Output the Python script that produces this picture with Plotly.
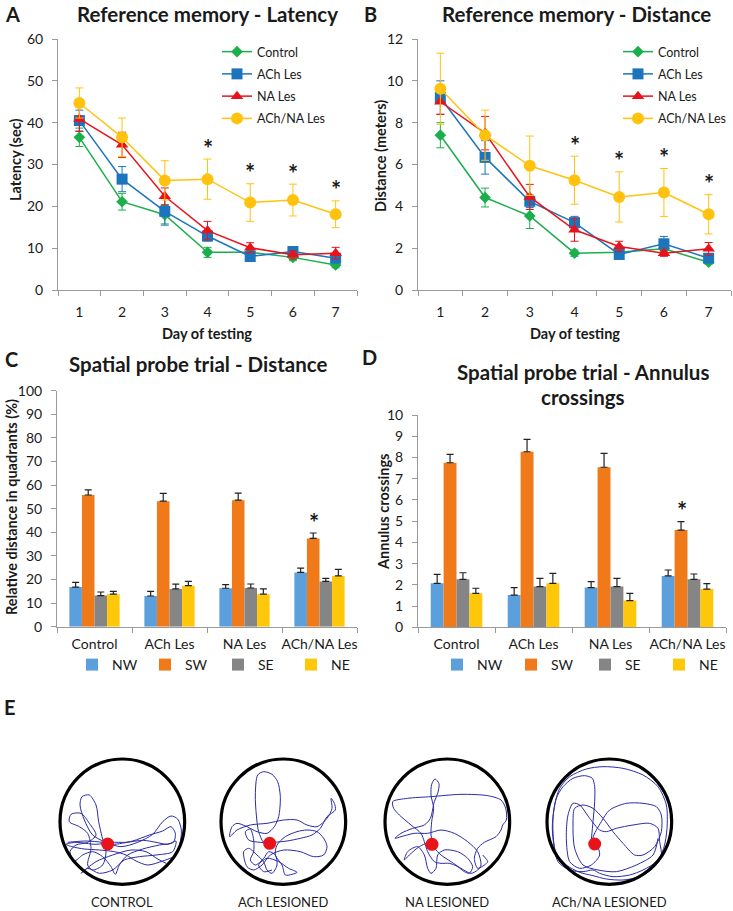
import plotly.graph_objects as go

W, H = 733, 911
FONT = "Lato"

# ---------------- data ----------------
days = ["1", "2", "3", "4", "5", "6", "7"]
groups = ["Control", "ACh Les", "NA Les", "ACh/NA Les"]
quadrants = ["NW", "SW", "SE", "NE"]

# Panel A: latency (sec)
lat_control = [36.5, 21.1, 18.0, 9.0, 9.0, 7.8, 6.0]
lat_control_err = [2.2, 2.0, 2.2, 1.2, 0.8, 0.8, 0.7]
lat_ach = [40.5, 26.5, 18.8, 12.9, 8.0, 9.2, 7.6]
lat_ach_err = [2.5, 3.0, 3.3, 1.2, 1.0, 1.0, 1.0]
lat_na = [40.9, 34.7, 22.4, 14.2, 10.1, 8.4, 8.8]
lat_na_err = [3.0, 3.0, 2.0, 2.2, 1.2, 1.0, 1.4]
lat_achna = [44.7, 36.5, 26.2, 26.5, 20.9, 21.5, 18.1]
lat_achna_err = [3.6, 4.6, 4.7, 4.8, 4.5, 3.8, 3.2]

# Panel B: distance (meters)
dist_control = [7.4, 4.42, 3.54, 1.76, 1.81, 1.97, 1.33]
dist_control_err = [0.6, 0.45, 0.6, 0.15, 0.1, 0.15, 0.1]
dist_ach = [9.2, 6.34, 4.24, 3.22, 1.70, 2.21, 1.52]
dist_ach_err = [0.8, 0.8, 0.3, 0.3, 0.2, 0.35, 0.2]
dist_na = [9.0, 7.5, 4.45, 2.88, 2.08, 1.76, 1.97]
dist_na_err = [0.6, 0.8, 0.6, 0.55, 0.25, 0.15, 0.3]
dist_achna = [9.62, 7.4, 5.94, 5.25, 4.45, 4.66, 3.62]
dist_achna_err = [1.7, 1.2, 1.42, 1.15, 1.2, 1.15, 0.94]

sig_days = ["4", "5", "6", "7"]

# Panel C: relative distance in quadrants (%), per group
probe_nw = [16.8, 13.0, 16.3, 23.0]
probe_nw_err = [2.0, 2.0, 1.5, 1.8]
probe_sw = [55.8, 53.2, 53.6, 37.4]
probe_sw_err = [2.2, 3.3, 3.0, 2.3]
probe_se = [13.2, 16.0, 16.4, 19.2]
probe_se_err = [1.5, 2.0, 1.7, 1.3]
probe_ne = [13.8, 17.4, 13.8, 21.5]
probe_ne_err = [1.2, 1.8, 2.2, 2.8]

# Panel D: annulus crossings, per group
ann_nw = [2.07, 1.52, 1.87, 2.42]
ann_nw_err = [0.42, 0.35, 0.28, 0.28]
ann_sw = [7.75, 8.27, 7.54, 4.58]
ann_sw_err = [0.4, 0.58, 0.65, 0.4]
ann_se = [2.26, 1.92, 1.92, 2.26]
ann_se_err = [0.31, 0.38, 0.38, 0.25]
ann_ne = [1.6, 2.07, 1.26, 1.8]
ann_ne_err = [0.24, 0.47, 0.34, 0.26]

sig_group = "ACh/NA Les"

# Panel E: example swim paths (tracker frame coordinates, y downwards)
arena_labels = ["CONTROL", "ACh LESIONED", "NA LESIONED", "ACh/NA LESIONED"]
platforms = [(155, 267), (158, 265), (153, 268), (155, 267)]
path_control = [(35,262),(90,258),(140,262),(170,268),(230,258),(280,240),(320,228),(345,215),(358,235),(352,262),
    (310,270),(260,282),(215,300),(190,330),(178,358),(165,335),(140,305),(110,290),(80,300),(55,318),(42,290),
    (60,270),(95,262),(120,240),(100,205),(75,175),(45,178),(40,200),(70,215),(95,235),(105,280),(95,330),(110,345),
    (140,330),(150,290),(138,245),(128,200),(120,150),(100,120),(78,125),(72,150),(85,195),(110,240),(150,262),
    (195,275),(245,262),(290,238),(320,200),(345,183),(365,192),(376,225),(372,265),(360,300),(320,318),(275,330),
    (240,318),(210,300),(175,290),(130,285),(85,282),(48,275),(30,268),(60,262),(120,268),(165,262),(210,262),
    (262,256),(300,262),(335,268),(360,258),(350,290),(300,300),(250,305),(205,315),(170,345),(130,355),(95,340),
    (75,355),(120,320),(170,300),(225,285),(270,290),(305,312),(330,325)]
path_ach = [(160,268),(140,262),(125,230),(118,180),(115,120),(122,60),(140,50),(165,58),(182,80),(190,125),(185,185),
    (172,215),(150,235),(120,230),(90,215),(60,205),(45,215),(38,245),(60,225),(100,210),(150,205),(200,195),
    (240,195),(270,210),(300,215),(330,190),(345,160),(342,130),(352,145),(355,165),(330,185),(310,220),(285,240),
    (250,250),(210,258),(170,262),(130,262),(95,255),(85,230),(100,222),(110,255),(110,290),(100,315),(115,330),
    (140,310),(155,290),(175,300),(180,330),(165,355),(150,345),(140,320),(120,300),(95,280),(80,290),(90,335),
    (110,345),(135,330),(160,300),(200,285),(250,290),(290,305),(320,300),(330,275),(320,250),(300,230),(270,225),
    (240,230),(205,245),(180,270),(175,300),(195,330),(205,360),(225,358),(240,352),(215,340),(185,320),(150,310),
    (125,330),(140,350),(165,345)]
path_na = [(155,270),(150,240),(152,200),(158,160),(150,120),(152,88),(162,72),(174,86),(170,115),(160,140),(148,190),
    (130,210),(95,220),(60,235),(42,250),(60,245),(100,235),(140,235),(180,225),(220,235),(260,260),(290,290),
    (300,330),(290,345),(270,355),(240,340),(210,320),(180,300),(160,280),(140,265),(115,275),(85,300),(70,315),
    (80,290),(110,275),(130,300),(140,340),(150,355),(165,340),(170,300),(190,285),(230,290),(260,310),(275,335),
    (265,355),(250,350),(230,335),(205,325),(180,325),(160,320),(140,290),(130,260),(120,235),(90,210),(55,180),
    (38,160),(35,140),(80,130),(150,125),(240,118),(320,122),(360,135),(374,160),(376,195),(365,210),(360,225),
    (345,245),(310,262),(290,280),(280,310),(290,340),(310,330),(320,320),(305,300)]
path_achna = [(145,255),(150,200),(155,140),(155,95),(148,70),(125,62),(90,70),(60,95),(40,130),(30,190),(32,260),
    (45,320),(80,345),(120,350),(150,345),(170,355),(210,365),(260,360),(300,345),(340,320),(362,280),(372,220),
    (370,150),(345,95),(300,60),(240,40),(180,35),(130,42),(80,65),(50,100),(35,150),(28,220),(38,290),(70,330),
    (110,352),(150,362),(190,372),(240,375),(290,365),(330,340),(355,305),(350,260),(345,220),(320,205),(270,210),
    (220,220),(190,230),(170,225),(140,190),(110,150),(90,145),(75,180),(70,250),(80,320),(110,340),(145,330),
    (170,300),(160,265),(150,250),(175,200),(200,165),(250,145),(300,145),(340,155),(355,180),(355,230),(335,275),
    (300,300),(275,300),(240,265),(210,230),(180,190),(150,160),(120,150),(95,160),(90,210),(95,280),(120,330),
    (165,345),(220,350),(280,330),(330,300),(345,250)]
paths = [path_control, path_ach, path_na, path_achna]

# ---------------- styling ----------------
line_colors = ["#1BAF4B", "#1C75BC", "#E8131A", "#FFC30F"]
line_symbols = ["diamond", "square", "triangle-up", "circle"]
line_sizes = [9, 11, 11, 12]
bar_colors = ["#5BA0DC", "#F07A1A", "#858585", "#FFC70A"]
AXC = "#9A9A9A"
TXT = "#1a1a1a"


def xp(p):
    return p / W


def yp(p):
    return 1 - p / H


fig = go.Figure()

# Panels A and B
lat_series = [(lat_control, lat_control_err), (lat_ach, lat_ach_err), (lat_na, lat_na_err), (lat_achna, lat_achna_err)]
dist_series = [(dist_control, dist_control_err), (dist_ach, dist_ach_err), (dist_na, dist_na_err), (dist_achna, dist_achna_err)]
for (series, ax, leg) in [(lat_series, "", "legend"), (dist_series, "2", "legend2")]:
    for i, (vals, errs) in enumerate(series):
        fig.add_trace(go.Scatter(
            x=days, y=vals, name=groups[i], mode="lines+markers", legendgroup=groups[i] + ax,
            line=dict(color=line_colors[i], width=1.5),
            marker=dict(symbol=line_symbols[i], size=line_sizes[i], color=line_colors[i]),
            error_y=dict(type="data", array=errs, color=line_colors[i], thickness=1, width=4),
            xaxis="x" + ax, yaxis="y" + ax, legend=leg))

# Panels C and D
probe_series = [(probe_nw, probe_nw_err), (probe_sw, probe_sw_err), (probe_se, probe_se_err), (probe_ne, probe_ne_err)]
ann_series = [(ann_nw, ann_nw_err), (ann_sw, ann_sw_err), (ann_se, ann_se_err), (ann_ne, ann_ne_err)]
for (series, ax, leg) in [(probe_series, "3", "legend3"), (ann_series, "4", "legend4")]:
    for i, (vals, errs) in enumerate(series):
        fig.add_trace(go.Bar(
            x=groups, y=vals, name=quadrants[i], marker=dict(color=bar_colors[i], line=dict(width=0)),
            error_y=dict(type="data", array=errs, symmetric=False, arrayminus=[0] * len(errs),
                         color="#222222", thickness=1.2, width=3.5),
            xaxis="x" + ax, yaxis="y" + ax, legend=leg))

# Panel E arenas
arena_left = [56, 217, 381, 543]
for k in range(4):
    n = str(5 + k)
    px_, py_ = zip(*paths[k])
    fig.add_trace(go.Scatter(x=list(px_), y=list(py_), mode="lines",
                             line=dict(color="#2B2BA6", width=1, shape="spline", smoothing=0.8),
                             showlegend=False, xaxis="x" + n, yaxis="y" + n))
    fig.add_trace(go.Scatter(x=[platforms[k][0]], y=[platforms[k][1]], mode="markers",
                             marker=dict(color="#E8141C", size=13), showlegend=False,
                             xaxis="x" + n, yaxis="y" + n))
    fig.add_shape(type="circle", xref="x" + n, yref="y" + n, x0=12, x1=386, y0=12, y1=388,
                  line=dict(color="black", width=3.2))


def yaxis_style(rng, dtick, top, bottom):
    return dict(range=rng, dtick=dtick, showline=True, linecolor=AXC, linewidth=1, ticks="outside",
                ticklen=5, tickcolor=AXC, showgrid=False, zeroline=False,
                tickfont=dict(size=14, color=TXT), ticklabelstandoff=6,
                domain=[yp(bottom), yp(top)])


def xaxis_style(left, right, anchor, rng, standoff):
    return dict(type="category", range=rng, showline=True, linecolor=AXC, linewidth=1, ticks="outside",
                ticklen=5, tickcolor=AXC, tickson="boundaries", showgrid=False, zeroline=False,
                tickangle=0, tickfont=dict(size=14, color=TXT), ticklabelstandoff=standoff,
                domain=[xp(left), xp(right)], anchor=anchor)


layout = dict(
    width=W, height=H, margin=dict(l=0, r=0, t=0, b=0, autoexpand=False),
    paper_bgcolor="white", plot_bgcolor="white",
    font=dict(family=FONT, color=TXT),
    barmode="group", bargap=0.33, bargroupgap=0,
    xaxis=xaxis_style(58, 357, "y", [-0.5, 6.5], 9),
    yaxis=yaxis_style([0, 60], 10, 39, 290) | dict(anchor="x"),
    xaxis2=xaxis_style(418, 731, "y2", [-0.5, 6.5], 9),
    yaxis2=yaxis_style([0, 12], 2, 39, 290) | dict(anchor="x2"),
    xaxis3=xaxis_style(57, 357, "y3", [-0.5, 3.5], 4),
    yaxis3=yaxis_style([0, 100], 10, 390.7, 626.7) | dict(anchor="x3"),
    xaxis4=xaxis_style(418, 726, "y4", [-0.5, 3.5], 4),
    yaxis4=yaxis_style([0, 10], 1, 415, 627.3) | dict(anchor="x4"),
    legend=dict(x=xp(217), y=yp(37), xanchor="left", yanchor="top", bgcolor="rgba(0,0,0,0)",
                font=dict(size=12.5, color=TXT), itemwidth=30, traceorder="grouped", tracegroupgap=3),
    legend2=dict(x=xp(618), y=yp(37), xanchor="left", yanchor="top", bgcolor="rgba(0,0,0,0)",
                 font=dict(size=12.5, color=TXT), itemwidth=30, traceorder="grouped", tracegroupgap=3),
    legend3=dict(x=xp(72), y=yp(665), xanchor="left", yanchor="middle", orientation="h",
                 bgcolor="rgba(0,0,0,0)", font=dict(size=14, color=TXT), itemwidth=30,
                 entrywidth=28, entrywidthmode="pixels"),
    legend4=dict(x=xp(437), y=yp(665), xanchor="left", yanchor="middle", orientation="h",
                 bgcolor="rgba(0,0,0,0)", font=dict(size=14, color=TXT), itemwidth=30,
                 entrywidth=29, entrywidthmode="pixels"),
)
for k in range(4):
    n = str(5 + k)
    layout["xaxis" + n] = dict(range=[0, 396], domain=[xp(arena_left[k]), xp(arena_left[k] + 132)],
                               visible=False, anchor="y" + n)
    layout["yaxis" + n] = dict(range=[402, 0], domain=[yp(889), yp(755)], visible=False, anchor="x" + n)
fig.update_layout(**layout)


# Text: panel letters, titles, axis titles
def ann(text, x, y, size, bold=False, angle=0):
    fig.add_annotation(text=f"<b>{text}</b>" if bold else text, x=xp(x), y=yp(y), xref="paper", yref="paper",
                       xanchor="center", yanchor="middle", showarrow=False, textangle=angle,
                       font=dict(size=size, color=TXT))


ann("A", 12, 14, 20, True)
ann("B", 370, 14, 20, True)
ann("C", 11, 359, 20, True)
ann("D", 369, 357, 20, True)
ann("E", 10, 707, 20, True)
ann("Reference memory - Latency", 207, 14, 20.5, True)
ann("Reference memory - Distance", 576, 14, 20.5, True)
ann("Spatial probe trial - Distance", 198, 364, 20.5, True)
ann("Spatial probe trial - Annulus", 583, 372, 20.5, True)
ann("crossings", 583, 397, 20.5, True)
ann("Latency (sec)", 15, 160, 14.5, True, -90)
ann("Distance (meters)", 381, 156, 14.5, True, -90)
ann("Relative distance in quadrants (%)", 12, 507, 14.5, True, -90)
ann("Annulus crossings", 383, 512, 14.5, True, -90)
ann("Day of testing", 207, 333, 14.5, True)
ann("Day of testing", 575, 333, 14.5, True)
for k in range(4):
    ann(arena_labels[k], arena_left[k] + 66, 902, 13)

# Significance asterisks above the ACh/NA error bars
for ax, vals, errs in [("", lat_achna, lat_achna_err), ("2", dist_achna, dist_achna_err)]:
    for d in sig_days:
        i = days.index(d)
        fig.add_annotation(text="<b>*</b>", x=i, y=vals[i] + errs[i], xref="x" + ax, yref="y" + ax,
                           showarrow=False, xanchor="center", yanchor="middle", yshift=11,
                           font=dict(size=24, color=TXT))
gi = groups.index(sig_group)
for ax, vals, errs in [("3", probe_sw, probe_sw_err), ("4", ann_sw, ann_sw_err)]:
    fig.add_annotation(text="<b>*</b>", x=gi, y=vals[gi] + errs[gi], xref="x" + ax, yref="y" + ax,
                       showarrow=False, xanchor="center", yanchor="middle", yshift=11, xshift=-6,
                       font=dict(size=24, color=TXT))

fig.write_html("out.html", config={"displayModeBar": False},
               post_script=["document.body.style.margin='0';"])
